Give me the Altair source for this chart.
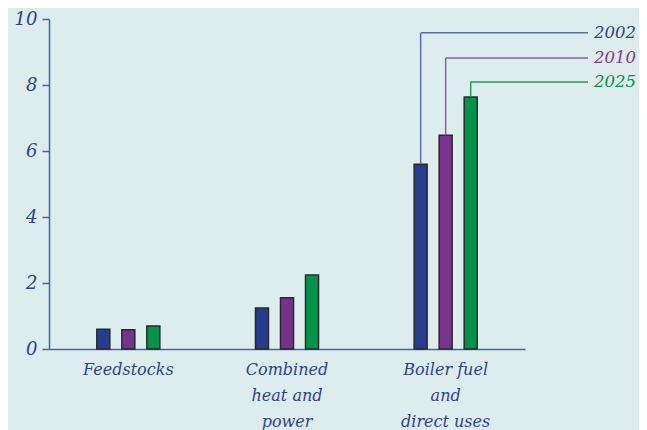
import altair as alt
import pandas as pd

categories = ["Feedstocks", "Combined\nheat and\npower", "Boiler fuel\nand\ndirect uses"]
years = ["2002", "2010", "2025"]
values_2002 = [0.6, 1.24, 5.6]
values_2010 = [0.58, 1.55, 6.48]
values_2025 = [0.7, 2.24, 7.64]
label_y = [9.58, 8.82, 8.09]  # leader-line heights (data units) for the year labels

bar_colors = ["#233D8F", "#76338C", "#00944A"]
line_colors = ["#5B6DAE", "#9159AB", "#18A055"]
text_colors = ["#2E4393", "#7E3C95", "#0A9148"]
axis_color = "#4C5FA8"
font = "DejaVu Serif"

rows = []
for yr, vals in zip(years, [values_2002, values_2010, values_2025]):
    for c, v in zip(categories, vals):
        rows.append({"cat": c, "year": yr, "value": v})
df = pd.DataFrame(rows)

last = categories[-1]
lead = pd.DataFrame({
    "cat": [last] * 3,
    "year": years,
    "value": [values_2002[-1], values_2010[-1], values_2025[-1]],
    "ly": label_y,
})

x_enc = alt.X("cat:N", sort=categories, title=None,
              scale=alt.Scale(paddingInner=0.527, paddingOuter=0.2635),
              axis=alt.Axis(labelExpr="split(datum.value, '\\n')", labelAngle=0,
                            ticks=False, labelPadding=12, labelLineHeight=26,
                            labelFontSize=16, labelFont=font, labelFontStyle="italic",
                            labelColor="#2E4393", domainColor=axis_color, domainWidth=1.5,
                            labelBaseline="top"))
xo_enc = alt.XOffset("year:N", sort=years,
                     scale=alt.Scale(paddingInner=0.48, paddingOuter=0.24))
y_enc = alt.Y("value:Q", title=None,
              scale=alt.Scale(domain=[0, 10], nice=False),
              axis=alt.Axis(values=[0, 2, 4, 6, 8, 10], grid=False, tickSize=7,
                            tickColor=axis_color, domainColor=axis_color, domainWidth=1.5,
                            tickWidth=1.5, labelFontSize=18, labelFont=font,
                            labelFontStyle="italic", labelColor="#2E4393", labelPadding=5))

bars = alt.Chart(df).mark_bar(stroke="#2a2a2a", strokeWidth=1.5).encode(
    x=x_enc, xOffset=xo_enc, y=y_enc,
    color=alt.Color("year:N", sort=years, legend=None,
                    scale=alt.Scale(domain=years, range=bar_colors)),
)

vlines = alt.Chart(lead).mark_rule(strokeWidth=1.5).encode(
    x=alt.X("cat:N", sort=categories), xOffset=alt.XOffset("year:N", sort=years),
    y="value:Q", y2="ly:Q",
    color=alt.Color("year:N", sort=years, legend=None,
                    scale=alt.Scale(domain=years, range=line_colors)),
)

hlines = alt.Chart(lead).mark_rule(strokeWidth=1.5).encode(
    x=alt.X("cat:N", sort=categories), xOffset=alt.XOffset("year:N", sort=years),
    x2=alt.value(539),
    y="ly:Q",
    color=alt.Color("year:N", sort=years, legend=None,
                    scale=alt.Scale(domain=years, range=line_colors)),
)

labels = alt.Chart(lead).mark_text(align="left", baseline="middle", font=font,
                                   fontStyle="italic", fontSize=16.5).encode(
    x=alt.value(545),
    y="ly:Q",
    text="year:N",
    color=alt.Color("year:N", sort=years, legend=None,
                    scale=alt.Scale(domain=years, range=text_colors)),
)

chart = alt.layer(bars, vlines + hlines, labels).resolve_scale(color="independent").properties(
    width=476, height=330,
    autosize=alt.AutoSizeParams(type="none"),
    padding={"left": 41, "top": 11, "right": 114, "bottom": 90},
    background="#DDECEC",
).configure_view(stroke=None, fill="#DDECEC")

chart.save("out.html", embed_options={"renderer": "svg", "actions": False})
